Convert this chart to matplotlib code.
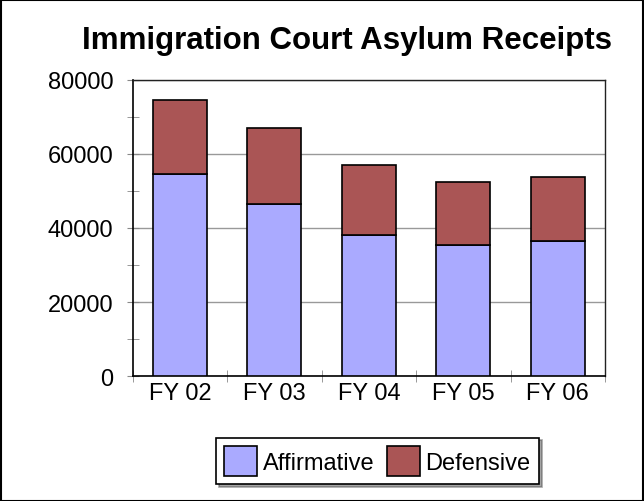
import numpy as np
import matplotlib
matplotlib.use("Agg")
import matplotlib.pyplot as plt
from matplotlib.patches import Rectangle

plt.rcParams["font.family"] = ["Liberation Sans", "DejaVu Sans"]

years = ["FY 02", "FY 03", "FY 04", "FY 05", "FY 06"]
affirmative = [54650, 46400, 38100, 35400, 36400]
defensive = [19850, 20600, 19000, 17000, 17400]

fig = plt.figure(figsize=(6.44, 5.02), dpi=100)
ax = fig.add_axes([132.7 / 644, 1 - 377.3 / 502, (605 - 132.7) / 644, (377.3 - 80.7) / 502])

x = np.arange(len(years))
w = 0.57
ax.bar(x, affirmative, w, color="#AAAAFF", edgecolor="black", linewidth=1.2,
       label="Affirmative", zorder=3)
ax.bar(x, defensive, w, bottom=affirmative, color="#AA5555", edgecolor="black",
       linewidth=1.2, label="Defensive", zorder=3)

ax.set_xlim(-0.5, len(years) - 0.5)
ax.set_ylim(0, 80000)
ax.set_yticks(np.arange(0, 80001, 20000))
ax.set_yticks(np.arange(10000, 80000, 20000), minor=True)
ax.yaxis.grid(True, color="#999999", linewidth=1, zorder=0)

ax.set_xticks(x)
ax.set_xticklabels(years, fontsize=17)
ax.set_xticks(np.arange(-0.5, len(years), 1.0), minor=True)
ax.tick_params(axis="x", which="major", length=0, pad=4)
ax.tick_params(axis="x", which="minor", length=9, direction="inout", color="#888888")
ax.tick_params(axis="y", which="both", length=8, direction="inout", color="#888888",
               labelsize=17, pad=10)

for side in ["left", "bottom"]:
    ax.spines[side].set_linewidth(1.2)
    ax.spines[side].set_color("black")
for side in ["top", "right"]:
    ax.spines[side].set_linewidth(1.0)
    ax.spines[side].set_color("#222222")

fig.text(347 / 644, 1 - 41 / 502, "Immigration Court Asylum Receipts", ha="center", va="center",
         fontsize=22.5, fontweight="bold")

leg = fig.legend(loc="center", bbox_to_anchor=(377.5 / 644, 1 - 462 / 502),
                 ncol=2, fontsize=17, frameon=True, fancybox=False, shadow=True,
                 handlelength=1.4, handleheight=1.6, handletextpad=0.25, columnspacing=0.5,
                 borderpad=0.35)
leg.get_frame().set_edgecolor("black")
leg.get_frame().set_linewidth(1.2)

fig.patches.append(Rectangle((0.5 / 644, 0.5 / 502), 642.5 / 644, 500.5 / 502,
                             transform=fig.transFigure, fill=False, edgecolor="black",
                             linewidth=1.5))

fig.savefig("out.png", dpi=100)
